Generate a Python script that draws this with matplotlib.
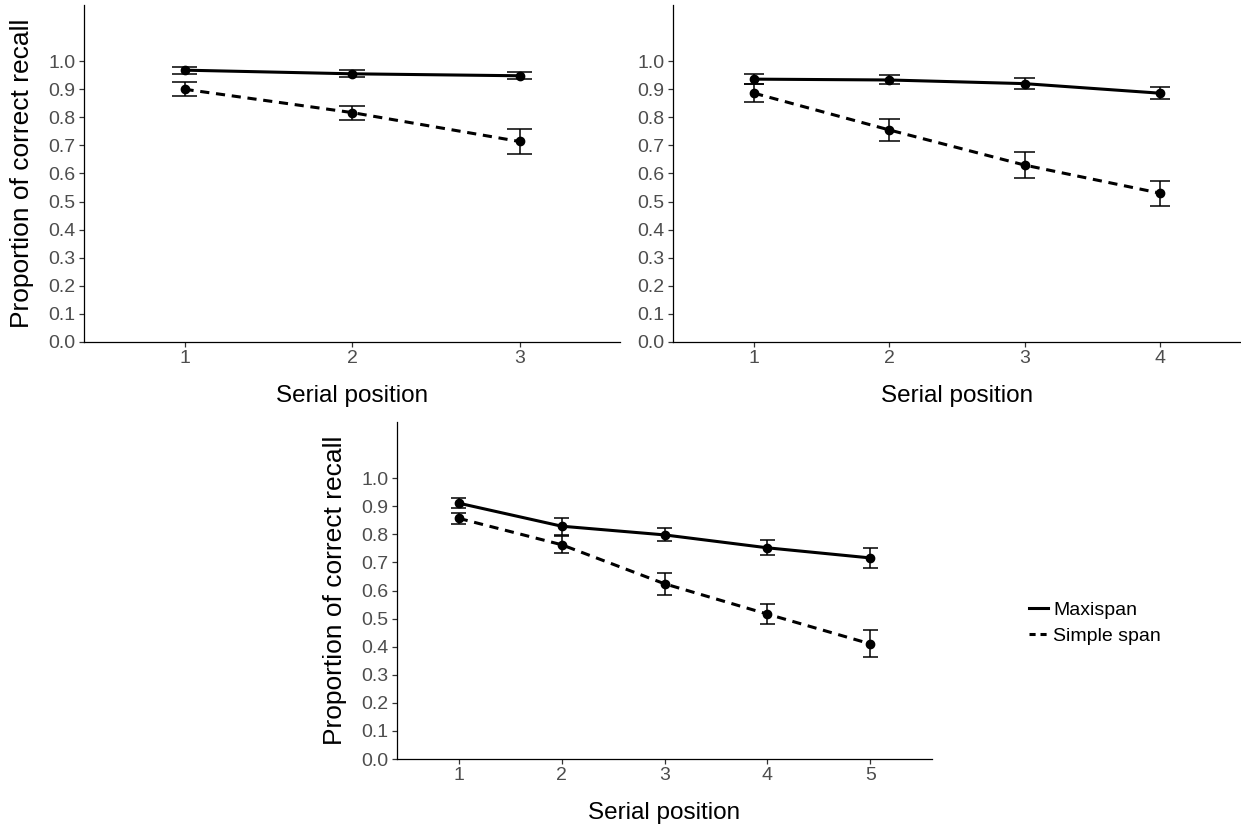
import matplotlib

matplotlib.use("Agg")
import matplotlib.pyplot as plt
import numpy as np
from matplotlib.lines import Line2D

plt.rcParams["font.family"] = ["Liberation Sans", "DejaVu Sans"]

# list length 3
positions_3 = [1, 2, 3]
maxi_3 = [0.968, 0.955, 0.948]
maxi_3_err = [0.012, 0.012, 0.012]
simple_3 = [0.900, 0.817, 0.714]
simple_3_err = [0.025, 0.025, 0.043]

# list length 4
positions_4 = [1, 2, 3, 4]
maxi_4 = [0.936, 0.933, 0.920, 0.886]
maxi_4_err = [0.018, 0.016, 0.019, 0.021]
simple_4 = [0.886, 0.755, 0.630, 0.530]
simple_4_err = [0.032, 0.040, 0.047, 0.044]

# list length 5
positions_5 = [1, 2, 3, 4, 5]
maxi_5 = [0.911, 0.829, 0.798, 0.752, 0.716]
maxi_5_err = [0.019, 0.030, 0.023, 0.027, 0.037]
simple_5 = [0.857, 0.763, 0.624, 0.516, 0.410]
simple_5_err = [0.020, 0.031, 0.039, 0.036, 0.048]

y_ticks = [i / 10 for i in range(11)]
condition_labels = ["Maxispan", "Simple span"]

CAP_WIDTH = 0.15
LINE_W = 2.2
DASHES = (3.0, 2.2)
TICK_GREY = "#4D4D4D"


def draw_series(ax, x, y, err, dashed: bool) -> None:
    """Draw one condition: line, error bars with caps, points."""
    x = np.asarray(x, dtype=float)
    y = np.asarray(y)
    err = np.asarray(err)
    line = ax.plot(x, y, color="black", linewidth=LINE_W, zorder=2,
                   solid_capstyle="butt")[0]
    if dashed:
        line.set_dashes(DASHES)
    ax.vlines(x, y - err, y + err, color="black", linewidth=1.1, zorder=3)
    ax.hlines(y - err, x - CAP_WIDTH / 2, x + CAP_WIDTH / 2, color="black",
              linewidth=1.1, zorder=3)
    ax.hlines(y + err, x - CAP_WIDTH / 2, x + CAP_WIDTH / 2, color="black",
              linewidth=1.1, zorder=3)
    ax.plot(x, y, "o", color="black", markersize=6, zorder=4)


def style_axes(ax, positions, ylabel: bool) -> None:
    """ggplot-like classic theme."""
    ax.set_xlim(0.4, positions[-1] + 0.6)
    ax.set_ylim(0, 1.2)
    ax.set_xticks(positions)
    ax.set_yticks(y_ticks)
    ax.set_yticklabels([f"{v:.1f}" for v in y_ticks])
    for side in ["top", "right"]:
        ax.spines[side].set_visible(False)
    for side in ["left", "bottom"]:
        ax.spines[side].set_linewidth(0.9)
        ax.spines[side].set_color("black")
    ax.tick_params(axis="both", labelsize=14, labelcolor=TICK_GREY,
                   color="#333333", length=3.5, width=0.9, pad=2.5)
    ax.set_xlabel("Serial position", fontsize=17.5, color="black")
    ax.xaxis.set_label_coords(0.5, -0.128)
    if ylabel:
        ax.set_ylabel("Proportion of correct recall", fontsize=19, color="black")
        ax.yaxis.set_label_coords(-0.093, 0.5)


fig = plt.figure(figsize=(12.41, 8.26), dpi=100)
W, H = 1241, 826

ax1 = fig.add_axes([84 / W, 1 - 342 / H, 536 / W, 337 / H])
ax2 = fig.add_axes([673 / W, 1 - 342 / H, 568 / W, 337 / H])
ax3 = fig.add_axes([397 / W, 1 - 759 / H, 535 / W, 337 / H])

draw_series(ax1, positions_3, maxi_3, maxi_3_err, dashed=False)
draw_series(ax1, positions_3, simple_3, simple_3_err, dashed=True)
style_axes(ax1, positions_3, True)

draw_series(ax2, positions_4, maxi_4, maxi_4_err, dashed=False)
draw_series(ax2, positions_4, simple_4, simple_4_err, dashed=True)
style_axes(ax2, positions_4, False)

draw_series(ax3, positions_5, maxi_5, maxi_5_err, dashed=False)
draw_series(ax3, positions_5, simple_5, simple_5_err, dashed=True)
style_axes(ax3, positions_5, True)

handles = [
    Line2D([], [], color="black", linewidth=LINE_W),
    Line2D([], [], color="black", linewidth=LINE_W, dashes=(2.0, 1.6)),
]
fig.legend(handles, condition_labels, loc="center left",
           bbox_to_anchor=(1015 / W, 1 - 623 / H), frameon=False,
           fontsize=14, handlelength=1.0, handletextpad=0.25,
           labelspacing=0.45, borderpad=0.2)

fig.savefig("out.png", dpi=100)
